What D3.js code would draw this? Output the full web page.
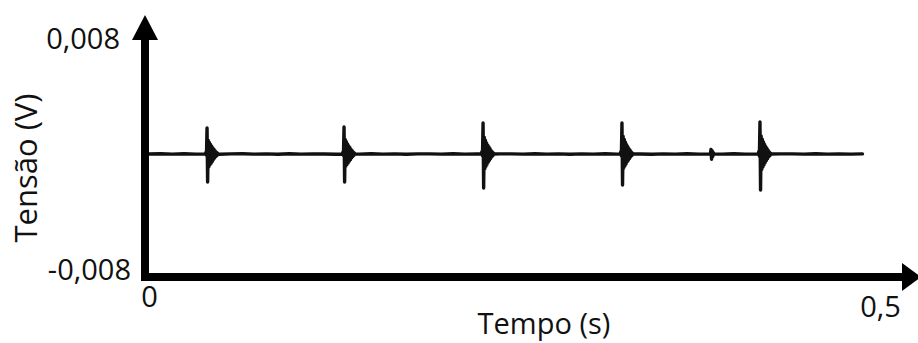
<!DOCTYPE html>
<html>
<head>
<meta charset="utf-8">
<script src="https://cdn.jsdelivr.net/npm/d3@7"></script>
<style>
  html, body { margin: 0; padding: 0; background: #fff; }
  svg { display: block; }
  text { font-family: "Open Sans", "Liberation Sans", sans-serif; fill: #111; }
</style>
</head>
<body>
<svg id="chart" width="918" height="343"></svg>
<script>
// ---- data -------------------------------------------------------------
const timeDomain = [0, 0.5];            // s
const voltDomain = [-0.008, 0.008];     // V
const xTickValues = [0, 0.5];
const xTickLabels = ["0", "0,5"];
const yTickValues = [-0.008, 0.008];
const yTickLabels = ["-0,008", "0,008"];
const xTitle = "Tempo (s)";
const yTitle = "Tensão (V)";

// background trace, one sample every baselineStep seconds
const baselineStep = 0.008;
const baselineValues = [
  0, 0.00002, -0.00001, 0.00002, -0.00001, 0.00001, -0.00002, 0.00001, 0.00002, -0.00001,
  0.00001, -0.00002, 0.00002, -0.00001, 0.00001, 0.00000, -0.00002, 0.00001, -0.00001, 0.00002,
  -0.00001, 0.00001, -0.00002, 0.00001, 0.00001, -0.00001, 0.00002, -0.00001, 0.00001, -0.00002,
  0.00001, 0.00001, -0.00001, 0.00002, -0.00001, 0.00001, -0.00002, 0.00001, -0.00001, 0.00002,
  -0.00001, 0.00001, 0.00000, -0.00002, 0.00001, -0.00001, 0.00002, -0.00001, 0.00001, -0.00001,
  0.00002, -0.00001, 0.00001, -0.00002, 0.00001, 0.00001, -0.00001, 0.00002, -0.00001, 0.00001,
  -0.00001, 0.00001
];

// bursts: onset time (s) and samples taken every burstStep seconds
const burstStep = 0.0004;
const burstStarts = [0.0385, 0.1322, 0.2273, 0.3223, 0.3840, 0.4167];
const burstValues = [
  [0, 0.00010, -0.00008, 0.00169, -0.00182, 0.00090, -0.00085, 0.00075, -0.00070, 0.00062,
   -0.00060, 0.00050, -0.00048, 0.00040, -0.00035, 0.00030, -0.00026, 0.00020, -0.00016, 0.00012,
   -0.00010, 0.00006, 0],
  [0, 0.00012, -0.00010, 0.00176, -0.00182, 0.00095, -0.00080, 0.00080, -0.00068, 0.00065,
   -0.00058, 0.00052, -0.00046, 0.00042, -0.00036, 0.00030, -0.00025, 0.00021, -0.00016, 0.00012,
   -0.00009, 0.00005, 0],
  [0, 0.00015, -0.00012, 0.00202, -0.00221, 0.00110, -0.00095, 0.00090, -0.00080, 0.00072,
   -0.00066, 0.00058, -0.00052, 0.00046, -0.00040, 0.00034, -0.00028, 0.00022, -0.00018, 0.00013,
   -0.00010, 0.00006, 0],
  [0, 0.00014, -0.00012, 0.00202, -0.00202, 0.00115, -0.00092, 0.00095, -0.00078, 0.00076,
   -0.00064, 0.00060, -0.00050, 0.00047, -0.00040, 0.00035, -0.00029, 0.00024, -0.00018, 0.00014,
   -0.00010, 0.00006, 0],
  [0, 0.00030, -0.00034, 0.00022, -0.00016, 0.00009, 0],
  [0, 0.00016, -0.00014, 0.00208, -0.00234, 0.00118, -0.00100, 0.00096, -0.00085, 0.00078,
   -0.00070, 0.00062, -0.00055, 0.00048, -0.00042, 0.00036, -0.00030, 0.00024, -0.00019, 0.00014,
   -0.00010, 0.00006, 0]
];

// ---- layout -----------------------------------------------------------
const svg = d3.select("#chart");
const x = d3.scaleLinear().domain(timeDomain).range([149, 880]);
const y = d3.scaleLinear().domain(voltDomain).range([277, 31]);

// ---- trace ------------------------------------------------------------
const bursts = burstStarts.map((t0, i) => ({
  t0,
  t1: t0 + (burstValues[i].length - 1) * burstStep,
  pts: burstValues[i].map((v, j) => [t0 + j * burstStep, v])
}));
const basePts = baselineValues
  .map((v, i) => [i * baselineStep, v])
  .filter(([t]) => !bursts.some(b => t >= b.t0 && t <= b.t1));
const trace = basePts.concat(...bursts.map(b => b.pts)).sort((a, b) => a[0] - b[0]);

svg.append("path")
  .datum(trace)
  .attr("fill", "none")
  .attr("stroke", "#111")
  .attr("stroke-width", 3.4)
  .attr("stroke-linejoin", "round")
  .attr("stroke-linecap", "round")
  .attr("d", d3.line().x(d => x(d[0])).y(d => y(d[1])));

// ---- axes (thick arrows) ----------------------------------------------
const axisX = x(0) - 4;            // vertical axis position
const axisY = y(voltDomain[0]);    // horizontal axis position
const thick = 8;

svg.append("line")
  .attr("x1", axisX).attr("x2", axisX)
  .attr("y1", axisY + thick / 2).attr("y2", 38)
  .attr("stroke", "#000").attr("stroke-width", thick);
svg.append("path")
  .attr("d", `M${axisX},15 L${axisX - 13},40 L${axisX + 13},40 Z`)
  .attr("fill", "#000");

svg.append("line")
  .attr("x1", axisX - thick / 2).attr("x2", 904)
  .attr("y1", axisY).attr("y2", axisY)
  .attr("stroke", "#000").attr("stroke-width", thick);
svg.append("path")
  .attr("d", `M921,${axisY} L902,${axisY - 14} L902,${axisY + 14} Z`)
  .attr("fill", "#000");

// tick labels through d3 axes (no lines, labels only)
const yAxis = d3.axisLeft(y)
  .tickValues(yTickValues)
  .tickSize(0)
  .tickFormat((d, i) => yTickLabels[i]);
const gy = svg.append("g").attr("transform", `translate(${axisX},0)`).call(yAxis);
gy.select(".domain").remove();
gy.selectAll("text")
  .attr("font-family", null)
  .style("font-size", "29px")
  .attr("fill", "#111")
  .attr("dy", "0.35em")
  .attr("x", (d, i) => i === 0 ? -14 : -25)
  .attr("y", (d, i) => i === 0 ? -8 : 7);

const xAxis = d3.axisBottom(x)
  .tickValues(xTickValues)
  .tickSize(0)
  .tickFormat((d, i) => xTickLabels[i]);
const gx = svg.append("g").attr("transform", `translate(0,${axisY})`).call(xAxis);
gx.select(".domain").remove();
gx.selectAll("text")
  .attr("font-family", null)
  .style("font-size", "29px")
  .attr("fill", "#111")
  .attr("dy", 0)
  .attr("y", (d, i) => i === 0 ? 30 : 40);

// ---- axis titles --------------------------------------------------------
svg.append("text")
  .attr("x", 544).attr("y", 334)
  .attr("text-anchor", "middle")
  .style("font-size", "29px")
  .text(xTitle);

svg.append("text")
  .attr("transform", "translate(37,168) rotate(-90)")
  .attr("text-anchor", "middle")
  .style("font-size", "31px")
  .text(yTitle);
</script>
</body>
</html>
